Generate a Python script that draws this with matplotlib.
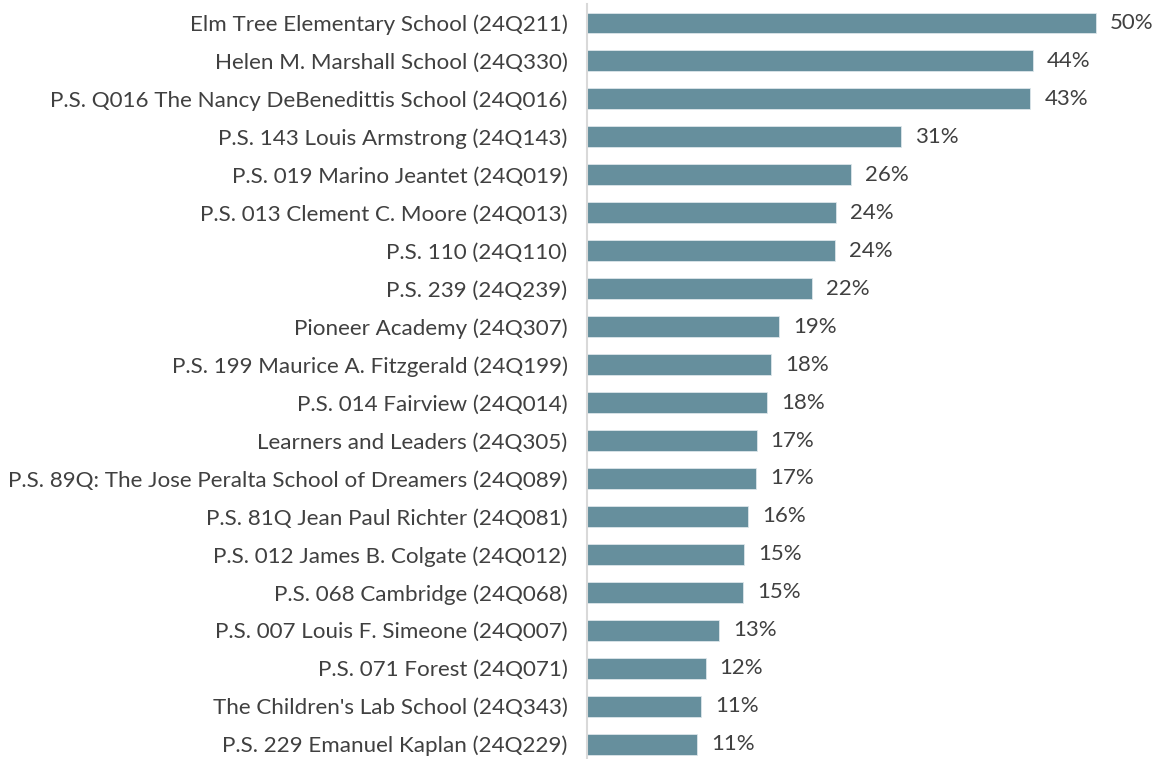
import matplotlib
matplotlib.use("Agg")
import matplotlib.pyplot as plt

schools = [
    "Elm Tree Elementary School (24Q211)",
    "Helen M. Marshall School (24Q330)",
    "P.S. Q016 The Nancy DeBenedittis School (24Q016)",
    "P.S. 143 Louis Armstrong (24Q143)",
    "P.S. 019 Marino Jeantet (24Q019)",
    "P.S. 013 Clement C. Moore (24Q013)",
    "P.S. 110 (24Q110)",
    "P.S. 239 (24Q239)",
    "Pioneer Academy (24Q307)",
    "P.S. 199 Maurice A. Fitzgerald (24Q199)",
    "P.S. 014 Fairview (24Q014)",
    "Learners and Leaders (24Q305)",
    "P.S. 89Q: The Jose Peralta School of Dreamers (24Q089)",
    "P.S. 81Q Jean Paul Richter (24Q081)",
    "P.S. 012 James B. Colgate (24Q012)",
    "P.S. 068 Cambridge (24Q068)",
    "P.S. 007 Louis F. Simeone (24Q007)",
    "P.S. 071 Forest (24Q071)",
    "The Children's Lab School (24Q343)",
    "P.S. 229 Emanuel Kaplan (24Q229)",
]
share = [49.8, 43.6, 43.4, 30.7, 25.8, 24.4, 24.3, 22.0, 18.8, 18.0,
         17.6, 16.6, 16.55, 15.8, 15.4, 15.3, 12.9, 11.6, 11.2, 10.8]

plt.rcParams['font.family'] = ['Lato', 'DejaVu Sans']
text_color = "#404040"
bar_color = "#668F9D"

fig = plt.figure(figsize=(11.6, 7.59), dpi=100)
ax = fig.add_axes([587/1160, 0.0, (1149-587)/1160, 1 - 4/759])

y = list(range(len(schools)))
bars = ax.barh(y, share, height=0.55, color=bar_color, edgecolor="#DCE6EA", linewidth=0.6)
ax.bar_label(bars, labels=[f"{round(v):d}%" for v in share], padding=10,
             fontsize=16, color=text_color)

ax.set_yticks(y)
ax.set_yticklabels(schools, fontsize=16.1, color=text_color)
ax.set_ylim(19.39, -0.5)
ax.set_xlim(0, 55)
ax.set_xticks([])
ax.tick_params(axis='y', length=0, pad=14)
for s in ["top", "right", "bottom"]:
    ax.spines[s].set_visible(False)
ax.spines["left"].set_color("#D9D9D9")
ax.spines["left"].set_linewidth(1.5)

fig.savefig("out.png", dpi=100, facecolor="white")
